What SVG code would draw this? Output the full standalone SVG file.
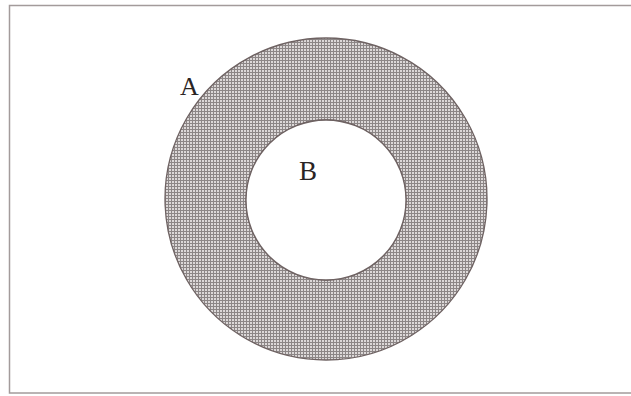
<svg xmlns="http://www.w3.org/2000/svg" width="631" height="396" viewBox="0 0 631 396">
<style>
.lbl{font-family:"Liberation Serif","Times New Roman",serif;fill:#2a2424}
.ring{stroke:#6e6262;stroke-width:1.3}
</style>
<defs>
<pattern id="grid" width="3" height="3" patternUnits="userSpaceOnUse">
<rect width="3" height="3" fill="#dcd8d8"/>
<rect width="3" height="1" fill="#8c8686"/>
<rect width="1" height="3" fill="#8c8686"/>
</pattern>
</defs>
<rect x="0" y="0" width="631" height="396" fill="#ffffff"/>
<rect id="universe" x="9.5" y="5.5" width="630" height="387.5" fill="none" stroke="#a39b9b" stroke-width="1.5"/>
<g id="setA">
<path class="ring" d="M326,38 a161,161 0 1,0 0.01,0 Z M326,120 a80,80 0 1,1 -0.01,0 Z" fill="url(#grid)" fill-rule="evenodd"/>
<text class="lbl" x="180" y="95" font-size="26">A</text>
</g>
<g id="setB">
<circle class="ring" cx="326" cy="200" r="80" fill="#ffffff"/>
<text class="lbl" x="299" y="180" font-size="27">B</text>
</g>
</svg>
